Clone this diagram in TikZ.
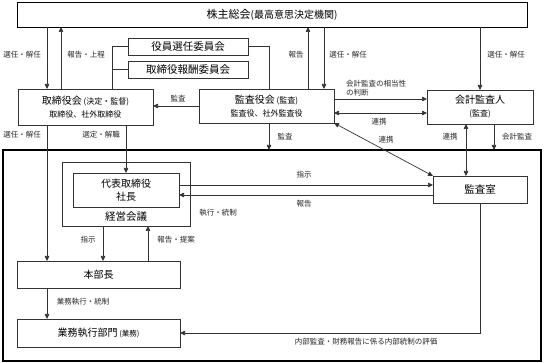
\documentclass[tikz,border=0pt]{standalone}
\usepackage{fontspec}
\newfontfamily\jp{Noto Sans CJK JP}
\usetikzlibrary{arrows.meta}
\newcommand{\smallj}{\fontsize{8}{10}\selectfont}
\begin{document}
\begin{tikzpicture}[x=1pt,y=-1pt,
  box/.style={draw=black!80, line width=0.7pt, fill=white, inner sep=0pt, outer sep=0pt, align=center, font=\jp\fontsize{10}{13}\selectfont},
  lbl/.style={font=\jp\fontsize{7.5}{9}\selectfont, inner sep=0pt, text=black!85},
  ln/.style={draw=black!80, line width=0.7pt},
  arr/.style={ln, -{Triangle[length=5pt,width=4.5pt]}},
  darr/.style={ln, {Triangle[length=5pt,width=4.5pt]}-{Triangle[length=5pt,width=4.5pt]}},
]
\useasboundingbox (0,0) rectangle (544,363);
\fill[white] (0,0) rectangle (544,363);

% x / y helper coordinates
\coordinate (xa) at (47,0);
\coordinate (xb) at (61,0);
\coordinate (xc) at (112,0);
\coordinate (xe) at (269,0);
\coordinate (xf) at (308,0);
\coordinate (xg) at (324,0);
\coordinate (xi) at (466,0);
\coordinate (xj) at (494,0);
\coordinate (xk) at (103,0);
\coordinate (xl) at (148,0);
\coordinate (ya) at (0,99);
\coordinate (yb) at (0,113);
\coordinate (yc) at (0,185);
\coordinate (yd) at (0,195);

% frame
\node[draw=black, line width=1.8pt, inner sep=0pt, outer sep=0pt, minimum width=538pt, minimum height=211pt] (frame) at (272,255.5) {};

% boxes
\node[box, draw=black, minimum width=510pt, minimum height=25pt, font=\jp\fontsize{11}{13}\selectfont] (top) at (272,14.5) {株主総会{\fontsize{10}{12}\selectfont(最高意思決定機関)}};
\node[box, minimum width=120pt, minimum height=17pt, font=\jp\fontsize{10.5}{12}\selectfont] (comm1) at (188,46.5) {役員選任委員会};
\node[box, minimum width=120pt, minimum height=17pt, font=\jp\fontsize{10.5}{12}\selectfont] (comm2) at (188,69.5) {取締役報酬委員会};
\node[box, minimum width=135pt, minimum height=36pt] (tori) at (85.5,107) {取締役会\,{\smallj(決定・監督)}\\{\smallj 取締役、社外取締役}};
\node[box, minimum width=135pt, minimum height=34pt] (kansa) at (266.5,106) {監査役会\,{\smallj(監査)}\\{\smallj 監査役、社外監査役}};
\node[box, minimum width=106pt, minimum height=34pt] (kaikei) at (480,107) {会計監査人\\{\smallj(監査)}};
\node[box, minimum width=128pt, minimum height=64pt] (keiei) at (126,194) {};
\node[box, minimum width=106pt, minimum height=34pt] (daihyo) at (126,190) {代表取締役\\社長};
\node[font=\jp\fontsize{10.5}{12}\selectfont, inner sep=0pt] (keieit) at (126,216.5) {経営会議};
\node[box, minimum width=94pt, minimum height=27pt, font=\jp\fontsize{10.5}{12}\selectfont] (shitsu) at (480,189.5) {監査室};
\node[box, minimum width=163pt, minimum height=27pt] (honbu) at (98.5,274.5) {本部長};
\node[box, minimum width=163pt, minimum height=28pt] (gyomu) at (98.5,333) {業務執行部門\,{\fontsize{7.5}{9}\selectfont(業務)}};

% connectors top
\draw[arr] (top.south -| xa) -- (tori.north -| xa);
\draw[arr] (tori.north -| xb) -- (top.south -| xb);
\draw[ln] (tori.north -| xc) |- (comm1.west);
\draw[ln] (comm2.west -| xc) -- (comm2.west);
\draw[ln] (comm1.east) -| (kansa.north -| xe);
\draw[arr] (kansa.north -| xf) -- (top.south -| xf);
\draw[arr] (top.south -| xg) -- (kansa.north -| xg);
\draw[arr] (top.south -| kaikei) -- (kaikei.north);

% middle
\draw[arr] (kansa.west) -- (kansa.west -| tori.east);
\draw[arr] (kansa.east |- ya) -- (kaikei.west |- ya);
\draw[darr] (kansa.east |- yb) -- (kaikei.west |- yb);
\draw[darr] (shitsu.north west) -- (kansa.south east);
\draw[darr] (shitsu.north -| xi) -- (kaikei.south -| xi);
\draw[arr] (kaikei.south -| xj) -- (frame.north -| xj);
\draw[arr] (kansa.south -| xe) -- (frame.north -| xe);

% inside
\draw[arr] (tori.south -| xa) -- (honbu.north -| xa);
\draw[arr] (tori.south -| daihyo) -- (daihyo.north);
\draw[arr] (daihyo.east |- yc) -- (shitsu.west |- yc);
\draw[arr] (shitsu.west |- yd) -- (daihyo.east |- yd);
\draw[arr] (keiei.south -| xk) -- (honbu.north -| xk);
\draw[arr] (honbu.north -| xl) -- (keiei.south -| xl);
\draw[arr] (honbu.south -| xa) -- (gyomu.north -| xa);
\draw[arr] (shitsu.south) |- (gyomu.east);

% labels
\node[lbl] (l1) at (22,55) {選任・解任};
\node[lbl] (l2) at (86,55) {報告・上程};
\node[lbl] (l3) at (296,55) {報告};
\node[lbl] (l4) at (348,55) {選任・解任};
\node[lbl] (l5) at (506,55) {選任・解任};
\node[lbl] (l6) at (178,99) {監査};
\node[lbl, anchor=west, align=left] (l7) at (346,88) {会計監査の相当性\\の判断};
\node[lbl] (l8) at (379,122) {連携};
\node[lbl] (l9) at (386,140) {連携};
\node[lbl] (l10) at (450,137) {連携};
\node[lbl] (l11) at (517,137) {会計監査};
\node[lbl] (l12) at (285,137) {監査};
\node[lbl] (l13) at (22,135) {選任・解任};
\node[lbl] (l14) at (101,135) {選定・解職};
\node[lbl] (l15) at (304,175) {指示};
\node[lbl] (l16) at (304,204) {報告};
\node[lbl] (l17) at (218,213) {執行・統制};
\node[lbl] (l18) at (88,240) {指示};
\node[lbl] (l19) at (176,240) {報告・提案};
\node[lbl] (l20) at (83,302) {業務執行・統制};
\node[lbl] (l21) at (366,342) {内部監査・財務報告に係る内部統制の評価};
\end{tikzpicture}
\end{document}
